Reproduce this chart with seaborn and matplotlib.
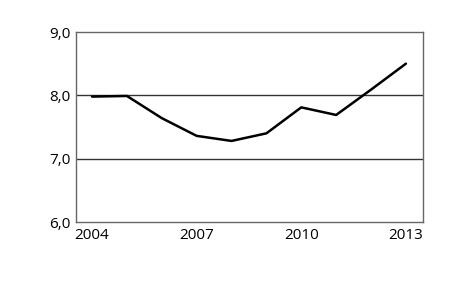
import matplotlib
matplotlib.use("Agg")
import matplotlib.pyplot as plt
import seaborn as sns
import pandas as pd

years = [2004, 2005, 2006, 2007, 2008, 2009, 2010, 2011, 2012, 2013]
values = [7.98, 7.99, 7.64, 7.36, 7.28, 7.40, 7.81, 7.69, 8.09, 8.50]
yticks = [6.0, 7.0, 8.0, 9.0]
xticks = [2004, 2007, 2010, 2013]

sns.set_theme(style="white")
plt.rcParams['font.family'] = ['Open Sans', 'DejaVu Sans']

df = pd.DataFrame({"year": years, "value": values})

fig = plt.figure(figsize=(4.6, 2.84), dpi=100)
ax = fig.add_axes([76/460, 1 - 222/284, (423-76)/460, (222-32)/284])
sns.lineplot(data=df, x="year", y="value", ax=ax, color="black", linewidth=1.8)

ax.set_xlim(2003.54, 2013.49)
ax.set_ylim(6.0, 9.0)
ax.set_xticks(xticks)
ax.set_xticklabels([str(x) for x in xticks])
ax.set_yticks(yticks)
ax.set_yticklabels([f"{v:.1f}".replace(".", ",") for v in yticks])
for v in [7.0, 8.0]:
    ax.axhline(v, color="#333333", linewidth=1.0, zorder=0)
ax.set_xlabel("")
ax.set_ylabel("")
for s in ax.spines.values():
    s.set_color("#666666")
    s.set_linewidth(1.0)
ax.tick_params(axis="both", length=0, labelsize=11, colors="black")
ax.tick_params(axis="x", pad=4)
ax.tick_params(axis="y", pad=4)

fig.savefig("out.png", dpi=100)
